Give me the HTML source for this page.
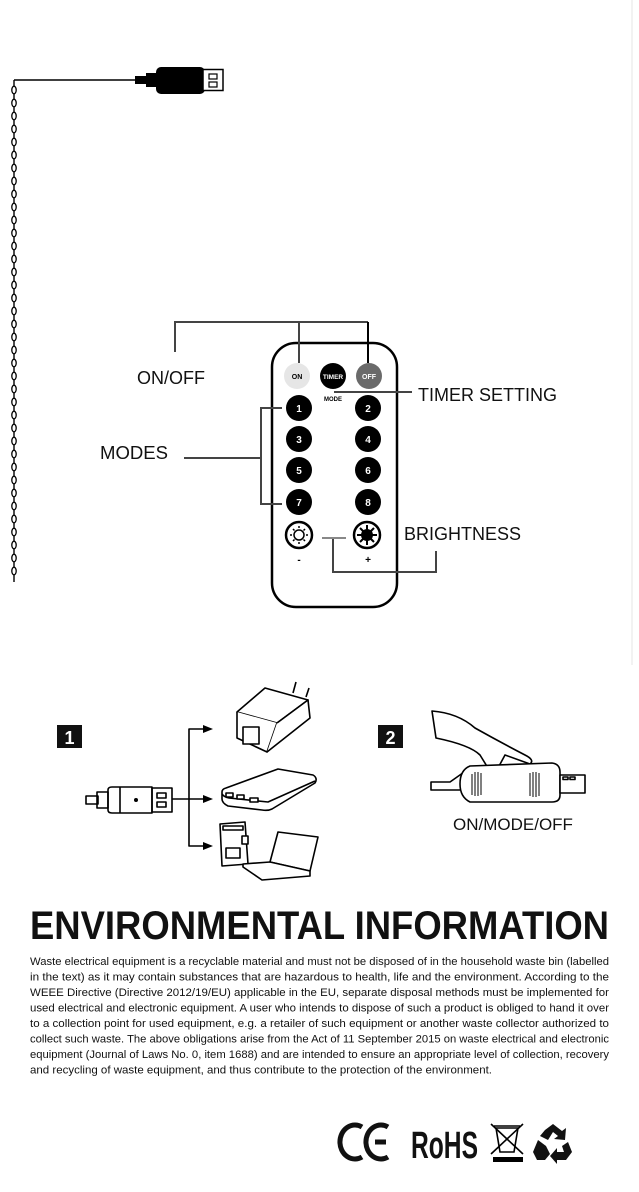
<!DOCTYPE html>
<html><head><meta charset="utf-8"><style>
html,body{margin:0;padding:0;background:#fff;}
svg{display:block;}
text{font-family:"Liberation Sans",sans-serif;}
</style></head><body>
<svg width="639" height="1192" viewBox="0 0 639 1192" xmlns="http://www.w3.org/2000/svg">
<rect width="639" height="1192" fill="#fff"/>
<line x1="632" y1="0" x2="632" y2="665" stroke="#e4e4e4" stroke-width="1"/>
<!-- USB cable -->
<line x1="14" y1="80" x2="136" y2="80" stroke="#000" stroke-width="1.5"/>
<rect x="135" y="76" width="13" height="8" fill="#000"/>
<rect x="146" y="73" width="12" height="14" fill="#000"/>
<rect x="156" y="67" width="49" height="27" rx="5" fill="#000"/>
<rect x="203" y="69.5" width="20" height="21" fill="#fff" stroke="#000" stroke-width="1.5"/>
<rect x="209" y="74" width="8" height="5" fill="#fff" stroke="#000" stroke-width="1.2"/>
<rect x="209" y="82" width="8" height="5" fill="#fff" stroke="#000" stroke-width="1.2"/>
<!-- chain -->
<line x1="14" y1="80" x2="14" y2="582" stroke="#000" stroke-width="1.4"/>
<g id="chain" fill="#fff" stroke="#000" stroke-width="1.3"></g>
<!-- remote -->
<rect x="272" y="343" width="125" height="264" rx="24" fill="#fff" stroke="#000" stroke-width="2.5"/>
<circle cx="297" cy="376" r="13" fill="#e6e6e6"/>
<text x="297" y="379" font-size="7" font-weight="bold" text-anchor="middle">ON</text>
<circle cx="333" cy="376" r="13" fill="#000"/>
<text x="333" y="379" font-size="6.5" font-weight="bold" fill="#fff" text-anchor="middle">TIMER</text>
<circle cx="369" cy="376" r="13" fill="#6a6a6a"/>
<text x="369" y="379" font-size="7" font-weight="bold" fill="#fff" text-anchor="middle">OFF</text>
<text x="333" y="401" font-size="6" font-weight="bold" text-anchor="middle">MODE</text>
<g fill="#000">
<circle cx="299" cy="408" r="13"/><circle cx="368" cy="408" r="13"/>
<circle cx="299" cy="439" r="13"/><circle cx="368" cy="439" r="13"/>
<circle cx="299" cy="470" r="13"/><circle cx="368" cy="470" r="13"/>
<circle cx="299" cy="502" r="13"/><circle cx="368" cy="502" r="13"/>
</g>
<g fill="#fff" font-size="10" font-weight="bold" text-anchor="middle">
<text x="299" y="412">1</text><text x="368" y="412">2</text>
<text x="299" y="443">3</text><text x="368" y="443">4</text>
<text x="299" y="474">5</text><text x="368" y="474">6</text>
<text x="299" y="506">7</text><text x="368" y="506">8</text>
</g>
<circle cx="299" cy="535" r="13" fill="#fff" stroke="#000" stroke-width="2.5"/>
<circle cx="299" cy="535" r="5" fill="none" stroke="#000" stroke-width="1.5"/>
<g stroke="#000" stroke-width="1.5">
<line x1="299" y1="526" x2="299" y2="528"/><line x1="299" y1="542" x2="299" y2="544"/>
<line x1="290" y1="535" x2="292" y2="535"/><line x1="306" y1="535" x2="308" y2="535"/>
<line x1="293" y1="529" x2="294.5" y2="530.5"/><line x1="303.5" y1="539.5" x2="305" y2="541"/>
<line x1="305" y1="529" x2="303.5" y2="530.5"/><line x1="293" y1="541" x2="294.5" y2="539.5"/>
</g>
<circle cx="367" cy="535" r="13" fill="#fff" stroke="#000" stroke-width="2.5"/>
<circle cx="367" cy="535" r="6" fill="#000"/>
<g stroke="#000" stroke-width="2">
<line x1="367" y1="525" x2="367" y2="545"/><line x1="357" y1="535" x2="377" y2="535"/>
<line x1="360" y1="528" x2="374" y2="542"/><line x1="374" y1="528" x2="360" y2="542"/>
</g>
<text x="299" y="563" font-size="10" font-weight="bold" text-anchor="middle">-</text>
<text x="368" y="563" font-size="10" font-weight="bold" text-anchor="middle">+</text>
<!-- connectors -->
<g fill="none" stroke="#444" stroke-width="2">
<polyline points="175,352 175,322 368,322"/>
<line x1="299" y1="322" x2="299" y2="363"/>
<line x1="368" y1="322" x2="368" y2="363" stroke="#000"/>
<line x1="334" y1="392" x2="412" y2="392"/>
<line x1="184" y1="458" x2="261" y2="458"/>
<polyline points="282,408 261,408 261,504 282,504"/>
<polyline points="436,551 436,572 333,572 333,538"/>
<line x1="322" y1="538" x2="346" y2="538" stroke="#888"/>
</g>
<g font-size="18" fill="#111">
<text x="137" y="384">ON/OFF</text>
<text x="418" y="401">TIMER SETTING</text>
<text x="100" y="459" textLength="68" lengthAdjust="spacingAndGlyphs">MODES</text>
<text x="404" y="540">BRIGHTNESS</text>
</g>
<!-- step 1 -->
<rect x="57" y="725" width="25" height="23" fill="#111"/>
<text x="69.5" y="744" font-size="18" font-weight="bold" fill="#fff" text-anchor="middle">1</text>
<g fill="none" stroke="#000" stroke-width="1.6" stroke-linejoin="round">
<rect x="86" y="796" width="12" height="8"/>
<rect x="97" y="792" width="11" height="16"/>
<path d="M108,790 L108,810 Q108,813 112,813 L152,813 L152,787 L112,787 Q108,787 108,790Z"/>
<rect x="152" y="788" width="20" height="24"/>
<rect x="157" y="793" width="9" height="5"/><rect x="157" y="802" width="9" height="5"/>
<line x1="120" y1="787" x2="120" y2="813"/>
<line x1="172" y1="799" x2="205" y2="799"/>
<polyline points="205,729 189,729 189,846 205,846"/>
</g>
<circle cx="136" cy="800" r="2" fill="#000"/>
<g fill="#000">
<polygon points="213,729 203,725 203,733"/>
<polygon points="213,799 203,795 203,803"/>
<polygon points="213,846 203,842 203,850"/>
</g>
<g fill="#fff" stroke="#000" stroke-width="1.6" stroke-linejoin="round">
<!-- charger -->
<path d="M237,712 L265,688 L308,700 L277,723 Z"/>
<path d="M237,712 L237,738 L267,752 L277,723"/>
<path d="M277,723 L308,700 L310,718 L267,752"/>
<rect x="243" y="727" width="16" height="17"/>
<line x1="293" y1="693" x2="296" y2="682"/><line x1="306" y1="697" x2="309" y2="688"/>
<!-- power bank -->
<path d="M222,792 Q222,789 226,788 L278,769 L313,775 Q318,778 315,783 L272,809 Q268,811 262,810 L228,806 Q222,803 222,799Z"/>
<path d="M222,794 Q224,797 229,798 L268,802 L315,781"/>
<rect x="226" y="793" width="7" height="4"/><rect x="237" y="795" width="7" height="4"/><rect x="250" y="798" width="8" height="4"/>
<!-- pc -->
<path d="M220,824 L245,822 L248,864 L222,866Z"/>
<rect x="223" y="826" width="20" height="4"/><rect x="242" y="836" width="6" height="8"/><rect x="226" y="848" width="14" height="10"/>
<path d="M270,862 L278,832 L318,837 L310,871Z"/>
<path d="M243,864 L270,862 L310,871 L310,876 L262,880 L243,867Z"/>
</g>
<!-- step 2 -->
<rect x="378" y="725" width="25" height="23" fill="#111"/>
<text x="390.5" y="744" font-size="18" font-weight="bold" fill="#fff" text-anchor="middle">2</text>
<g fill="#fff" stroke="#000" stroke-width="1.6" stroke-linejoin="round">
<path d="M432,711 Q458,713 475,728 Q500,742 525,755 Q535,760 530,764 L505,755 L498,768 L488,768 L480,755 Q470,745 436,738 Z"/>
<path d="M431,782 L450,782 L467,770 L467,790 L450,790 L431,790Z"/>
<path d="M470,766 L552,763 Q560,764 560,772 L560,795 Q560,802 552,802 L470,802 Q460,797 460,784 Q460,770 470,766Z"/>
<rect x="560" y="775" width="25" height="18"/>
<rect x="563" y="777" width="5" height="2.5"/><rect x="570" y="777" width="5" height="2.5"/>
</g>
<g stroke="#000" stroke-width="1">
<line x1="472" y1="774" x2="472" y2="795"/><line x1="475" y1="772" x2="475" y2="796"/><line x1="478" y1="772" x2="478" y2="796"/><line x1="481" y1="773" x2="481" y2="795"/>
<line x1="530" y1="773" x2="530" y2="796"/><line x1="533" y1="772" x2="533" y2="797"/><line x1="536" y1="772" x2="536" y2="797"/><line x1="539" y1="773" x2="539" y2="796"/>
</g>
<text x="453" y="830" font-size="17" fill="#111">ON/MODE/OFF</text>
<!-- environmental -->
<text x="30" y="939" font-size="40" font-weight="bold" fill="#111" textLength="579" lengthAdjust="spacingAndGlyphs">ENVIRONMENTAL INFORMATION</text>
<g font-size="11.3" fill="#111">
<text x="30" y="965" textLength="579" lengthAdjust="spacingAndGlyphs">Waste electrical equipment is a recyclable material and must not be disposed of in the household waste bin (labelled</text>
<text x="30" y="980.5" textLength="579" lengthAdjust="spacingAndGlyphs">in the text) as it may contain substances that are hazardous to health, life and the environment. According to the</text>
<text x="30" y="996" textLength="579" lengthAdjust="spacingAndGlyphs">WEEE Directive (Directive 2012/19/EU) applicable in the EU, separate disposal methods must be implemented for</text>
<text x="30" y="1011.5" textLength="579" lengthAdjust="spacingAndGlyphs">used electrical and electronic equipment. A user who intends to dispose of such a product is obliged to hand it over</text>
<text x="30" y="1027" textLength="579" lengthAdjust="spacingAndGlyphs">to a collection point for used equipment, e.g. a retailer of such equipment or another waste collector authorized to</text>
<text x="30" y="1042.5" textLength="579" lengthAdjust="spacingAndGlyphs">collect such waste. The above obligations arise from the Act of 11 September 2015 on waste electrical and electronic</text>
<text x="30" y="1058" textLength="579" lengthAdjust="spacingAndGlyphs">equipment (Journal of Laws No. 0, item 1688) and are intended to ensure an appropriate level of collection, recovery</text>
<text x="30" y="1073.5" textLength="462" lengthAdjust="spacingAndGlyphs">and recycling of waste equipment, and thus contribute to the protection of the environment.</text>
</g>
<!-- logos -->
<g fill="none" stroke="#111" stroke-width="5">
<path d="M362,1127 A15,17 0 1 0 362,1157"/>
<path d="M388,1127 A15,17 0 1 0 388,1157"/>
<line x1="375" y1="1142" x2="386" y2="1142"/>
</g>
<text x="411" y="1158" font-size="38" font-weight="bold" fill="#111" textLength="67" lengthAdjust="spacingAndGlyphs">RoHS</text>
<g fill="none" stroke="#000" stroke-width="1.6">
<path d="M496,1128 L500,1152 L514,1152 L518,1128Z"/>
<line x1="494" y1="1126" x2="520" y2="1126"/>
<line x1="491" y1="1124" x2="523" y2="1154"/><line x1="523" y1="1124" x2="491" y2="1154"/>
</g>
<rect x="493" y="1157" width="30" height="5" fill="#000"/>
<g fill="#111">
<path d="M545,1130 L553,1124 L562,1131 L566,1128 L565,1140 L554,1139 L558,1136 L553,1132 L548,1140 L540,1136Z"/>
<path d="M568,1142 L572,1152 L566,1160 L557,1160 L557,1164 L550,1156 L557,1148 L557,1152 L564,1152 L562,1146Z"/>
<path d="M538,1140 L546,1146 L550,1154 L545,1160 L537,1160 L533,1152Z"/>
</g>
</svg>
<script>
var g=document.getElementById('chain'),s='';
for(var y=90;y<=580;y+=13){s+='<ellipse cx="14" cy="'+y+'" rx="2.2" ry="3.8"/>';}
g.innerHTML=s;
</script>
</body></html>
